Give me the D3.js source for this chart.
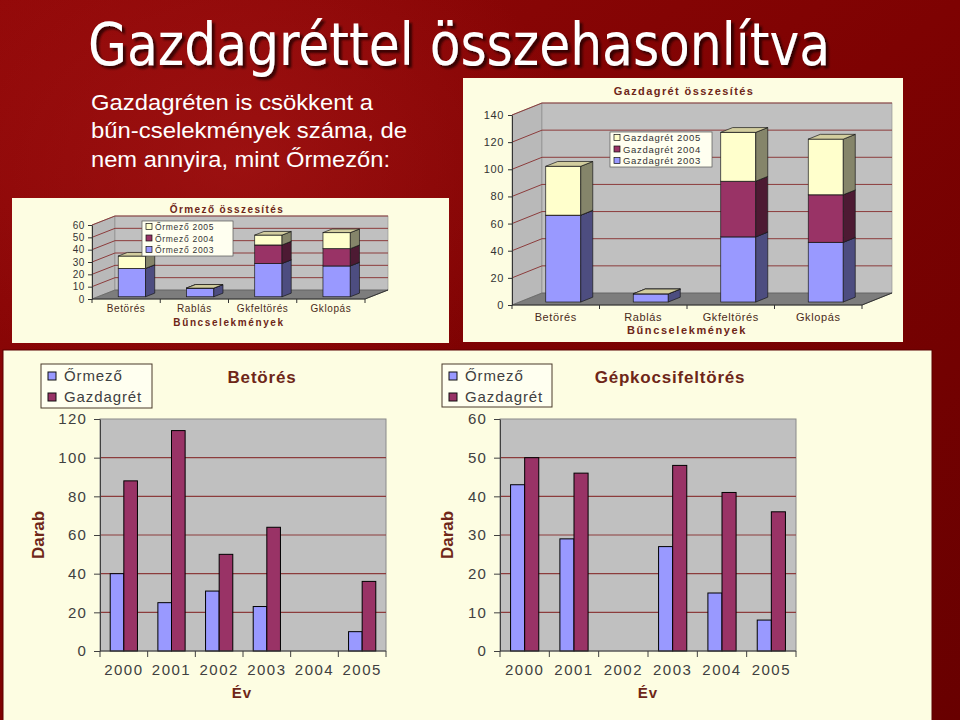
<!DOCTYPE html>
<html>
<head>
<meta charset="utf-8">
<script src="https://cdn.jsdelivr.net/npm/d3@7"></script>
<style>
  body { margin: 0; background: #7a0000; }
  svg { display: block; }
</style>
</head>
<body>
<div id="chart"></div>
<script>
// summary charts (stacked 3D columns)
const crimes = ["Betörés", "Rablás", "Gkfeltörés", "Gklopás"];
const ormezo2003 = [23, 7, 27, 25];
const ormezo2004 = [0, 0, 15, 14];
const ormezo2005 = [10, 0, 8, 13];
const gazda2003 = [64, 6, 48, 44];
const gazda2004 = [0, 0, 41, 35];
const gazda2005 = [36, 0, 36, 41];

// yearly comparison charts
const years = ["2000", "2001", "2002", "2003", "2004", "2005"];
const betoresOrmezo = [40, 25, 31, 23, 0, 10];
const betoresGazda = [88, 114, 50, 64, 0, 36];
const gkOrmezo = [43, 29, 0, 27, 15, 8];
const gkGazda = [50, 46, 0, 48, 41, 36];

const W = 960, H = 720;
const FONT = "'Liberation Sans', Arial, sans-serif";
const BROWN = "#6e2618";

const svg = d3.select("#chart").append("svg")
  .attr("width", W)
  .attr("height", H);

const defs = svg.append("defs");
const bg = defs.append("linearGradient").attr("id", "bg")
  .attr("x1", "0").attr("y1", "0").attr("x2", "1").attr("y2", "1");
bg.append("stop").attr("offset", "0").attr("stop-color", "#930909");
bg.append("stop").attr("offset", "0.5").attr("stop-color", "#7e0202");
bg.append("stop").attr("offset", "1").attr("stop-color", "#680000");

const glow = defs.append("radialGradient").attr("id", "glow")
  .attr("cx", "0.25").attr("cy", "0.22").attr("r", "0.35");
glow.append("stop").attr("offset", "0").attr("stop-color", "#a81818").attr("stop-opacity", 0.6);
glow.append("stop").attr("offset", "1").attr("stop-color", "#a81818").attr("stop-opacity", 0);

const shadow = defs.append("filter").attr("id", "shadow")
  .attr("x", "-5%").attr("y", "-20%").attr("width", "110%").attr("height", "150%");
shadow.append("feDropShadow")
  .attr("dx", 3).attr("dy", 3).attr("stdDeviation", 1)
  .attr("flood-color", "#1a0000").attr("flood-opacity", 0.75);

svg.append("rect").attr("width", W).attr("height", H).attr("fill", "url(#bg)");
svg.append("rect").attr("width", W).attr("height", H).attr("fill", "url(#glow)");

// title
svg.append("text")
  .attr("x", 88).attr("y", 65)
  .attr("textLength", 742).attr("lengthAdjust", "spacingAndGlyphs")
  .attr("font-family", "'Liberation Sans Narrow', 'DejaVu Sans Condensed', 'Arial Narrow', sans-serif")
  .attr("font-size", 58)
  .attr("fill", "#ffffff")
  .attr("filter", "url(#shadow)")
  .text("Gazdagréttel összehasonlítva");

const bodyLines = [
  { t: "Gazdagréten is csökkent a", w: 282 },
  { t: "bűn-cselekmények száma, de", w: 316 },
  { t: "nem annyira, mint Őrmezőn:", w: 299 }
];
svg.selectAll("text.body")
  .data(bodyLines)
  .enter().append("text")
  .attr("class", "body")
  .attr("x", 91)
  .attr("y", (d, i) => 110 + i * 28.3)
  .attr("textLength", d => d.w).attr("lengthAdjust", "spacingAndGlyphs")
  .attr("font-family", "'Liberation Sans Narrow', 'Liberation Sans', sans-serif")
  .attr("font-size", 22)
  .attr("fill", "#ffffff")
  .text(d => d.t);

// chart panels
const PANEL = "#fdfde2";
svg.append("rect").attr("x", 463).attr("y", 78).attr("width", 440).attr("height", 264).attr("fill", PANEL);
svg.append("rect").attr("x", 12).attr("y", 198).attr("width", 437).attr("height", 145).attr("fill", PANEL);
svg.append("rect").attr("x", 3).attr("y", 350).attr("width", 929).attr("height", 372).attr("fill", PANEL)
  .attr("stroke", "#5a0000").attr("stroke-width", 1);

const pts = p => p.map(d => d.join(",")).join(" ");

function draw3d(o) {
  const g = svg.append("g");
  const y = d3.scaleLinear().domain([0, o.max]).range([o.y0, o.yTop]);
  const x = d3.scaleBand().domain(crimes).range([o.x0, o.x1]);
  const ticks = d3.range(0, o.max + 1, o.step);
  const dx = o.dx, dy = o.dy;

  // walls and floor
  g.append("polygon")
    .attr("points", pts([[o.x0, y(0)], [o.x0 + dx, y(0) + dy], [o.x0 + dx, y(o.max) + dy], [o.x0, y(o.max)]]))
    .attr("fill", "#b9b9b9").attr("stroke", "#7a7a7a").attr("stroke-width", 0.6);
  g.append("rect")
    .attr("x", o.x0 + dx).attr("y", y(o.max) + dy)
    .attr("width", o.x1 - o.x0).attr("height", y(0) - y(o.max))
    .attr("fill", "#c0c0c0").attr("stroke", "#8a8a8a").attr("stroke-width", 0.6);
  g.append("polygon")
    .attr("points", pts([[o.x0, y(0)], [o.x1, y(0)], [o.x1 + dx, y(0) + dy], [o.x0 + dx, y(0) + dy]]))
    .attr("fill", "#7d7d7d").attr("stroke", "#555").attr("stroke-width", 0.6);

  // gridlines on back and side wall
  const grid = g.selectAll("g.grid").data(ticks.filter(v => v > 0)).enter().append("g");
  grid.append("line")
    .attr("x1", o.x0 + dx).attr("x2", o.x1 + dx)
    .attr("y1", v => y(v) + dy).attr("y2", v => y(v) + dy)
    .attr("stroke", "#8c3c3c").attr("stroke-width", 1);
  grid.append("line")
    .attr("x1", o.x0).attr("x2", o.x0 + dx)
    .attr("y1", v => y(v)).attr("y2", v => y(v) + dy)
    .attr("stroke", "#8c3c3c").attr("stroke-width", 1);

  // stacked bars
  const rows = crimes.map((c, i) => o.series.map(s => s[i]));
  const stacked = d3.stack().keys(d3.range(o.series.length))(rows);
  const bw = x.bandwidth() * 0.4, fd = 0.25, bd = 0.4;
  crimes.forEach((c, ci) => {
    const bar = g.append("g");
    stacked.forEach((layer, si) => {
      const s0 = layer[ci][0], s1 = layer[ci][1];
      const xf = x(c) + (x.bandwidth() - bw) / 2 + fd * dx;
      const yb = y(s0) + fd * dy, yt = y(s1) + fd * dy;
      const ex = bd * dx, ey = bd * dy;
      if (s1 > s0) {
        bar.append("rect")
          .attr("x", xf).attr("y", yt).attr("width", bw).attr("height", yb - yt)
          .attr("fill", o.colors[si]).attr("stroke", "#1a1a1a").attr("stroke-width", 0.7);
        bar.append("polygon")
          .attr("points", pts([[xf + bw, yb], [xf + bw + ex, yb + ey], [xf + bw + ex, yt + ey], [xf + bw, yt]]))
          .attr("fill", o.sides[si]).attr("stroke", "#1a1a1a").attr("stroke-width", 0.7);
      }
      bar.append("polygon")
        .attr("points", pts([[xf, yt], [xf + bw, yt], [xf + bw + ex, yt + ey], [xf + ex, yt + ey]]))
        .attr("fill", o.tops[si]).attr("stroke", "#1a1a1a").attr("stroke-width", 0.7);
    });
  });

  // y axis
  const ya = g.append("g")
    .attr("transform", `translate(${o.x0},0)`)
    .call(d3.axisLeft(y).tickValues(ticks).tickSize(4).tickSizeOuter(0).tickPadding(o.tickPad));
  ya.select(".domain").attr("stroke", "#333");
  ya.selectAll(".tick line").attr("stroke", "#333");
  ya.selectAll(".tick text")
    .attr("font-family", FONT).attr("font-size", o.fs).attr("fill", "#333")
    .attr("letter-spacing", 0.6);

  // x axis: front floor edge, boundary ticks, labels
  g.append("line")
    .attr("x1", o.x0).attr("x2", o.x1).attr("y1", y(0)).attr("y2", y(0))
    .attr("stroke", "#333");
  g.append("line")
    .attr("x1", o.x1).attr("x2", o.x1 + dx).attr("y1", y(0)).attr("y2", y(0) + dy)
    .attr("stroke", "#333");
  const bounds = crimes.map(c => x(c)).concat([o.x1]);
  g.selectAll("line.bt").data(bounds).enter().append("line")
    .attr("x1", d => d).attr("x2", d => d)
    .attr("y1", y(0)).attr("y2", y(0) + 4)
    .attr("stroke", "#333");
  g.selectAll("text.cat").data(crimes).enter().append("text")
    .attr("x", c => x(c) + x.bandwidth() / 2)
    .attr("y", o.catY)
    .attr("text-anchor", "middle")
    .attr("font-family", FONT).attr("font-size", o.fs)
    .attr("letter-spacing", 0.6)
    .attr("fill", "#4a2a20")
    .text(c => c);

  g.append("text")
    .attr("x", o.axisTitleX).attr("y", o.axisTitleY)
    .attr("text-anchor", "middle")
    .attr("font-family", FONT).attr("font-size", o.fs).attr("font-weight", "bold")
    .attr("letter-spacing", 1.6).attr("fill", BROWN)
    .text("Bűncselekmények");
  g.append("text")
    .attr("x", o.titleX).attr("y", o.titleY)
    .attr("text-anchor", "middle")
    .attr("font-family", FONT).attr("font-size", o.fs).attr("font-weight", "bold")
    .attr("letter-spacing", 1.4).attr("fill", BROWN)
    .text(o.title);

  // legend (top entry is the last series)
  const L = o.legend;
  const lg = g.append("g").attr("transform", `translate(${L.x},${L.y})`);
  lg.append("rect").attr("width", L.w).attr("height", L.h)
    .attr("fill", "#fffff0").attr("stroke", "#555").attr("stroke-width", 0.7);
  const items = o.names.map((n, i) => ({ n, c: o.colors[i] })).reverse();
  const it = lg.selectAll("g.it").data(items).enter().append("g")
    .attr("transform", (d, i) => `translate(4,${5.5 + i * 11.5})`);
  it.append("rect").attr("x", 0).attr("y", -3).attr("width", 6).attr("height", 6)
    .attr("fill", d => d.c).attr("stroke", "#111").attr("stroke-width", 0.7);
  it.append("text")
    .attr("x", 9).attr("y", 3.5)
    .attr("font-family", FONT).attr("font-size", o.fs - 1.5)
    .attr("letter-spacing", 0.7).attr("fill", "#333")
    .text(d => d.n);
}

const col3 = ["#9999ff", "#993366", "#ffffcc"];
const side3 = ["#4d4d80", "#4d1a33", "#85856a"];
const top3 = ["#7a7acc", "#7a2952", "#d2cd9e"];

draw3d({
  x0: 512, x1: 862, y0: 305, yTop: 115, dx: 30, dy: -12, max: 140, step: 20,
  series: [gazda2003, gazda2004, gazda2005],
  names: ["Gazdagrét 2003", "Gazdagrét 2004", "Gazdagrét 2005"],
  colors: col3, sides: side3, tops: top3,
  title: "Gazdagrét összesítés", titleX: 684, titleY: 95,
  axisTitleX: 687, axisTitleY: 334, catY: 321, fs: 11, tickPad: 4,
  legend: { x: 610, y: 132, w: 102, h: 35 }
});

draw3d({
  x0: 92, x1: 365, y0: 299, yTop: 225, dx: 23, dy: -9, max: 60, step: 10,
  series: [ormezo2003, ormezo2004, ormezo2005],
  names: ["Őrmező 2003", "Őrmező 2004", "Őrmező 2005"],
  colors: col3, sides: side3, tops: top3,
  title: "Őrmező összesítés", titleX: 227, titleY: 213,
  axisTitleX: 229, axisTitleY: 326, catY: 311.5, fs: 10, tickPad: 3,
  legend: { x: 142, y: 221, w: 91, h: 35 }
});

function drawClustered(o) {
  const g = svg.append("g");
  const x = d3.scaleBand().domain(years).range([o.px0, o.px1]);
  const xi = d3.scaleBand().domain(["o", "g"]).range([0, x.bandwidth()]).paddingOuter(0.75);
  const y = d3.scaleLinear().domain([0, o.max]).range([o.py0, o.pyTop]);
  const ticks = d3.range(0, o.max + 1, o.step);

  g.append("rect")
    .attr("x", o.px0).attr("y", o.pyTop)
    .attr("width", o.px1 - o.px0).attr("height", o.py0 - o.pyTop)
    .attr("fill", "#c0c0c0").attr("stroke", "#8a8a8a");
  g.selectAll("line.grid").data(ticks.filter(v => v > 0 && v < o.max)).enter().append("line")
    .attr("x1", o.px0).attr("x2", o.px1)
    .attr("y1", d => y(d)).attr("y2", d => y(d))
    .attr("stroke", "#8c3c3c").attr("stroke-width", 1.2);

  const data = years.map((yr, i) => ({ yr, o: o.ormezo[i], g: o.gazda[i] }));
  const grp = g.selectAll("g.yr").data(data).enter().append("g")
    .attr("transform", d => `translate(${x(d.yr)},0)`);
  grp.selectAll("rect")
    .data(d => [{ k: "o", v: d.o }, { k: "g", v: d.g }].filter(b => b.v > 0))
    .enter().append("rect")
    .attr("x", b => xi(b.k))
    .attr("width", xi.bandwidth())
    .attr("y", b => y(b.v))
    .attr("height", b => y(0) - y(b.v))
    .attr("fill", b => b.k === "o" ? "#9999ff" : "#993366")
    .attr("stroke", "#000").attr("stroke-width", 1);

  const ya = g.append("g")
    .attr("transform", `translate(${o.px0},0)`)
    .call(d3.axisLeft(y).tickValues(ticks).tickSize(6).tickSizeOuter(0).tickPadding(7));
  ya.select(".domain").attr("stroke", "#404040");
  ya.selectAll(".tick line").attr("stroke", "#404040");
  ya.selectAll(".tick text")
    .attr("font-family", FONT).attr("font-size", 15).attr("fill", "#404040")
    .attr("letter-spacing", 1.2);

  g.append("line")
    .attr("x1", o.px0).attr("x2", o.px1).attr("y1", o.py0).attr("y2", o.py0)
    .attr("stroke", "#404040");
  const bounds = years.map(yr => x(yr)).concat([o.px1]);
  g.selectAll("line.bt").data(bounds).enter().append("line")
    .attr("x1", d => d).attr("x2", d => d)
    .attr("y1", o.py0).attr("y2", o.py0 + 6)
    .attr("stroke", "#404040");
  g.selectAll("text.yr").data(years).enter().append("text")
    .attr("x", yr => x(yr) + x.bandwidth() / 2)
    .attr("y", 675)
    .attr("text-anchor", "middle")
    .attr("font-family", FONT).attr("font-size", 15).attr("fill", "#404040")
    .attr("letter-spacing", 1.5)
    .text(yr => yr);

  g.append("text")
    .attr("x", o.xTitleX).attr("y", 698)
    .attr("text-anchor", "middle")
    .attr("font-family", FONT).attr("font-size", 15).attr("font-weight", "bold")
    .attr("letter-spacing", 1).attr("fill", BROWN)
    .text("Év");
  g.append("text")
    .attr("transform", `translate(${o.yTitleX},535) rotate(-90)`)
    .attr("text-anchor", "middle").attr("dy", "0.35em")
    .attr("font-family", "'Liberation Sans Narrow', 'Liberation Sans', sans-serif")
    .attr("font-size", 17).attr("font-weight", "bold")
    .attr("fill", BROWN)
    .text("Darab");
  g.append("text")
    .attr("x", o.titleX).attr("y", 383)
    .attr("text-anchor", "middle")
    .attr("font-family", FONT).attr("font-size", 17).attr("font-weight", "bold")
    .attr("letter-spacing", 0.8).attr("fill", BROWN)
    .text(o.title);

  const L = o.legend;
  const lg = g.append("g").attr("transform", `translate(${L.x},${L.y})`);
  lg.append("rect").attr("width", L.w).attr("height", L.h)
    .attr("fill", "#fffff0").attr("stroke", "#4a3a2a").attr("stroke-width", 1);
  const items = [{ n: "Őrmező", c: "#9999ff" }, { n: "Gazdagrét", c: "#993366" }];
  const it = lg.selectAll("g.it").data(items).enter().append("g")
    .attr("transform", (d, i) => `translate(7,${8 + i * 21})`);
  it.append("rect").attr("width", 8).attr("height", 8)
    .attr("fill", d => d.c).attr("stroke", "#111").attr("stroke-width", 1);
  it.append("text")
    .attr("x", 16).attr("y", 9)
    .attr("font-family", FONT).attr("font-size", 15)
    .attr("letter-spacing", 0.9).attr("fill", "#404040")
    .text(d => d.n);
}

drawClustered({
  px0: 100, px1: 386, py0: 651, pyTop: 419, max: 120, step: 20,
  ormezo: betoresOrmezo, gazda: betoresGazda,
  title: "Betörés", titleX: 262, xTitleX: 242, yTitleX: 38,
  legend: { x: 41, y: 364, w: 111, h: 44 }
});

drawClustered({
  px0: 500, px1: 796, py0: 651, pyTop: 419, max: 60, step: 10,
  ormezo: gkOrmezo, gazda: gkGazda,
  title: "Gépkocsifeltörés", titleX: 670, xTitleX: 648, yTitleX: 447,
  legend: { x: 442, y: 364, w: 110, h: 43 }
});
</script>
</body>
</html>
